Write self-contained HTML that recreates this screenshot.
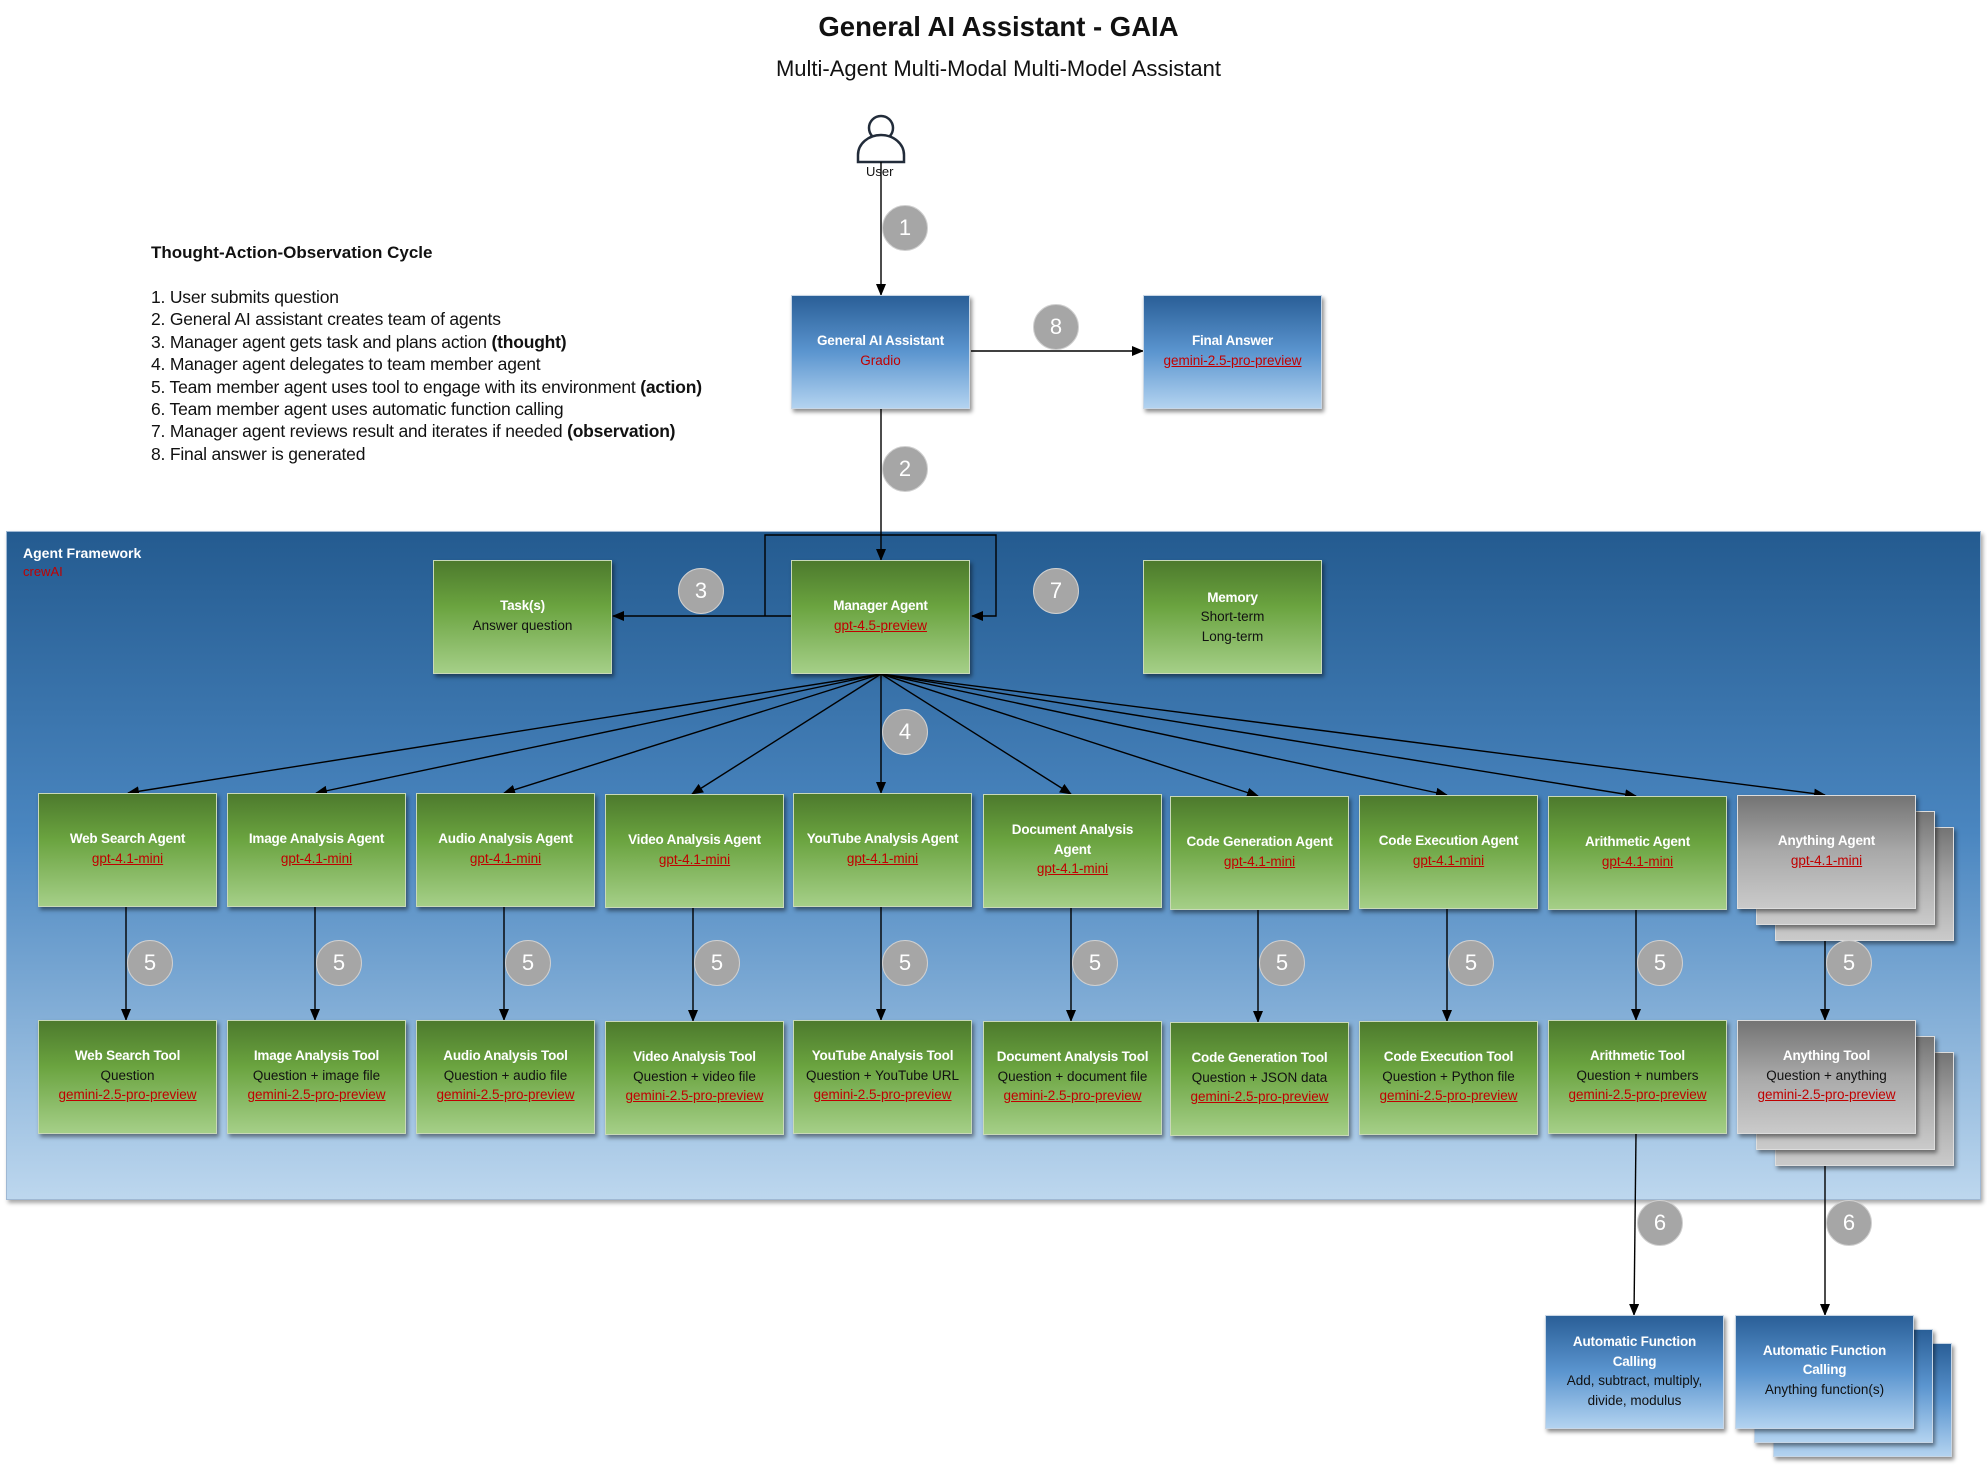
<!DOCTYPE html>
<html><head><meta charset="utf-8">
<style>
*{margin:0;padding:0;box-sizing:border-box}
body{width:1987px;height:1465px;background:#fff;position:relative;overflow:hidden;font-family:"Liberation Sans",sans-serif}
.abs{position:absolute}
.panel{left:6px;top:531px;width:1975px;height:669px;background:linear-gradient(#245b90,#4a86c0 45%,#bdd7ee);box-shadow:2px 3px 4px rgba(0,0,0,.35);border:1px solid #9fb8d3}
.box{position:absolute;width:179px;height:114px;display:flex;flex-direction:column;justify-content:center;align-items:center;text-align:center;font-size:13.5px;line-height:19.5px;box-shadow:2px 3px 4px rgba(0,0,0,.45);border:1px solid #c9d9b9;padding-bottom:3px}
.g{background:linear-gradient(#4d7a2d,#6aa33f 40%,#a5cf88)}
.b{background:linear-gradient(#2a5f97,#5b95cf 50%,#b3d3f0);border-color:#c7d6e6}
.gr{background:linear-gradient(#747474,#a9a9a9 50%,#cacaca);border-color:#ddd}
.t{color:#fff;font-weight:bold;letter-spacing:-0.2px}
.s{color:#111}
.r{color:#c00000;text-decoration:underline}
.rn{color:#c00000}
.c{position:absolute;width:46px;height:46px;border-radius:50%;background:#a6a6a6;border:1px solid #d0d0d0;color:#fff;font-size:22px;display:flex;align-items:center;justify-content:center}
svg{position:absolute;left:0;top:0}
</style></head><body>
<div class="abs" style="left:0;width:1997px;top:11px;text-align:center;font-size:27.5px;font-weight:bold;color:#111">General AI Assistant - GAIA</div>
<div class="abs" style="left:0;width:1997px;top:56px;text-align:center;font-size:22px;color:#111">Multi-Agent Multi-Modal Multi-Model Assistant</div>

<div class="abs" style="left:151px;top:243px;font-size:17px;font-weight:bold;color:#111">Thought-Action-Observation Cycle</div>
<div class="abs" style="left:151px;top:286px;font-size:17.5px;line-height:22.4px;color:#111;letter-spacing:-0.2px">
1. User submits question<br>2. General AI assistant creates team of agents<br>3. Manager agent gets task and plans action <b>(thought)</b><br>4. Manager agent delegates to team member agent<br>5. Team member agent uses tool to engage with its environment <b>(action)</b><br>6. Team member agent uses automatic function calling<br>7. Manager agent reviews result and iterates if needed <b>(observation)</b><br>8. Final answer is generated</div>

<div class="abs panel"></div>
<div class="abs" style="left:23px;top:545px;font-size:14px;font-weight:bold;color:#fff">Agent Framework</div>
<div class="abs" style="left:23px;top:564px;font-size:13px;color:#c00000">crewAI</div>

<svg width="1987" height="1465" style="z-index:1">
<defs><marker id="a" markerWidth="12" markerHeight="10" refX="11" refY="5" orient="auto" markerUnits="userSpaceOnUse"><path d="M0,0 L12,5 L0,10 z" fill="#000"/></marker></defs>
<circle cx="881" cy="128" r="12" fill="#fff" stroke="#222c3a" stroke-width="2.5"/>
<path d="M858,162 L858,155 A23,20 0 0 1 904,155 L904,162 Z" fill="#fff" stroke="#222c3a" stroke-width="2.5"/>
<g stroke="#000" stroke-width="1.4" fill="none">
<line x1="881" y1="162" x2="881" y2="295" marker-end="url(#a)"/>
<line x1="971" y1="351" x2="1143" y2="351" marker-end="url(#a)"/>
<line x1="881" y1="409" x2="881" y2="560" marker-end="url(#a)"/>
<line x1="791" y1="616" x2="613" y2="616" marker-end="url(#a)"/>
<polyline points="765,616 765,535 996,535 996,616 972,616" marker-end="url(#a)"/>
<line x1="881" y1="674" x2="128" y2="793" marker-end="url(#a)"/>
<line x1="881" y1="674" x2="316" y2="793" marker-end="url(#a)"/>
<line x1="881" y1="674" x2="504" y2="793" marker-end="url(#a)"/>
<line x1="881" y1="674" x2="692" y2="794" marker-end="url(#a)"/>
<line x1="881" y1="674" x2="881" y2="793" marker-end="url(#a)"/>
<line x1="881" y1="674" x2="1071" y2="794" marker-end="url(#a)"/>
<line x1="881" y1="674" x2="1258" y2="796" marker-end="url(#a)"/>
<line x1="881" y1="674" x2="1447" y2="795" marker-end="url(#a)"/>
<line x1="881" y1="674" x2="1636" y2="796" marker-end="url(#a)"/>
<line x1="881" y1="674" x2="1825" y2="795" marker-end="url(#a)"/>
<line x1="126" y1="907" x2="126" y2="1020" marker-end="url(#a)"/>
<line x1="315" y1="907" x2="315" y2="1020" marker-end="url(#a)"/>
<line x1="504" y1="907" x2="504" y2="1020" marker-end="url(#a)"/>
<line x1="693" y1="907" x2="693" y2="1021" marker-end="url(#a)"/>
<line x1="881" y1="907" x2="881" y2="1020" marker-end="url(#a)"/>
<line x1="1071" y1="907" x2="1071" y2="1021" marker-end="url(#a)"/>
<line x1="1258" y1="910" x2="1258" y2="1022" marker-end="url(#a)"/>
<line x1="1447" y1="908" x2="1447" y2="1021" marker-end="url(#a)"/>
<line x1="1636" y1="910" x2="1636" y2="1020" marker-end="url(#a)"/>
<line x1="1825" y1="910" x2="1825" y2="1020" marker-end="url(#a)"/>
<line x1="1636" y1="1134" x2="1634" y2="1315" marker-end="url(#a)"/>
<line x1="1825" y1="1134" x2="1825" y2="1315" marker-end="url(#a)"/>
</g></svg>
<div class="abs" style="left:866px;top:164px;font-size:13px;color:#111;z-index:2">User</div>

<div style="position:relative;z-index:3">
<div class="box b" style="left:791px;top:295px"><div class="t">General AI Assistant</div><div class="rn">Gradio</div></div>
<div class="box b" style="left:1143px;top:295px"><div class="t">Final Answer</div><div class="r">gemini-2.5-pro-preview</div></div>

<div class="box g" style="left:433px;top:560px"><div class="t">Task(s)</div><div class="s">Answer question</div></div>
<div class="box g" style="left:791px;top:560px"><div class="t">Manager Agent</div><div class="r">gpt-4.5-preview</div></div>
<div class="box g" style="left:1143px;top:560px;padding-bottom:0"><div class="t">Memory</div><div class="s">Short-term</div><div class="s">Long-term</div></div>

<div class="box g" style="left:38px;top:793px"><div class="t">Web Search Agent</div><div class="r">gpt-4.1-mini</div></div>
<div class="box g" style="left:227px;top:793px"><div class="t">Image Analysis Agent</div><div class="r">gpt-4.1-mini</div></div>
<div class="box g" style="left:416px;top:793px"><div class="t">Audio Analysis Agent</div><div class="r">gpt-4.1-mini</div></div>
<div class="box g" style="left:605px;top:794px"><div class="t">Video Analysis Agent</div><div class="r">gpt-4.1-mini</div></div>
<div class="box g" style="left:793px;top:793px"><div class="t">YouTube Analysis Agent</div><div class="r">gpt-4.1-mini</div></div>
<div class="box g" style="left:983px;top:794px"><div class="t">Document Analysis<br>Agent</div><div class="r">gpt-4.1-mini</div></div>
<div class="box g" style="left:1170px;top:796px"><div class="t">Code Generation Agent</div><div class="r">gpt-4.1-mini</div></div>
<div class="box g" style="left:1359px;top:795px"><div class="t">Code Execution Agent</div><div class="r">gpt-4.1-mini</div></div>
<div class="box g" style="left:1548px;top:796px"><div class="t">Arithmetic Agent</div><div class="r">gpt-4.1-mini</div></div>
<div class="box gr" style="left:1775px;top:827px"></div>
<div class="box gr" style="left:1756px;top:811px"></div>
<div class="box gr" style="left:1737px;top:795px"><div class="t">Anything Agent</div><div class="r">gpt-4.1-mini</div></div>

<div class="box g" style="left:38px;top:1020px"><div class="t">Web Search Tool</div><div class="s">Question</div><div class="r">gemini-2.5-pro-preview</div></div>
<div class="box g" style="left:227px;top:1020px"><div class="t">Image Analysis Tool</div><div class="s">Question + image file</div><div class="r">gemini-2.5-pro-preview</div></div>
<div class="box g" style="left:416px;top:1020px"><div class="t">Audio Analysis Tool</div><div class="s">Question + audio file</div><div class="r">gemini-2.5-pro-preview</div></div>
<div class="box g" style="left:605px;top:1021px"><div class="t">Video Analysis Tool</div><div class="s">Question + video file</div><div class="r">gemini-2.5-pro-preview</div></div>
<div class="box g" style="left:793px;top:1020px"><div class="t">YouTube Analysis Tool</div><div class="s">Question + YouTube URL</div><div class="r">gemini-2.5-pro-preview</div></div>
<div class="box g" style="left:983px;top:1021px"><div class="t">Document Analysis Tool</div><div class="s">Question + document file</div><div class="r">gemini-2.5-pro-preview</div></div>
<div class="box g" style="left:1170px;top:1022px"><div class="t">Code Generation Tool</div><div class="s">Question + JSON data</div><div class="r">gemini-2.5-pro-preview</div></div>
<div class="box g" style="left:1359px;top:1021px"><div class="t">Code Execution Tool</div><div class="s">Question + Python file</div><div class="r">gemini-2.5-pro-preview</div></div>
<div class="box g" style="left:1548px;top:1020px"><div class="t">Arithmetic Tool</div><div class="s">Question + numbers</div><div class="r">gemini-2.5-pro-preview</div></div>
<div class="box gr" style="left:1775px;top:1052px"></div>
<div class="box gr" style="left:1756px;top:1036px"></div>
<div class="box gr" style="left:1737px;top:1020px"><div class="t">Anything Tool</div><div class="s">Question + anything</div><div class="r">gemini-2.5-pro-preview</div></div>

<div class="box b" style="left:1545px;top:1315px;padding-bottom:2px"><div class="t">Automatic Function<br>Calling</div><div class="s">Add, subtract, multiply,<br>divide, modulus</div></div>
<div class="box b" style="left:1773px;top:1343px"></div>
<div class="box b" style="left:1754px;top:1329px"></div>
<div class="box b" style="left:1735px;top:1315px;padding-bottom:4px"><div class="t">Automatic Function<br>Calling</div><div class="s">Anything function(s)</div></div>
</div>

<div style="position:relative;z-index:4">
<div class="c" style="left:882px;top:205px">1</div>
<div class="c" style="left:1033px;top:304px">8</div>
<div class="c" style="left:882px;top:446px">2</div>
<div class="c" style="left:678px;top:568px">3</div>
<div class="c" style="left:1033px;top:568px">7</div>
<div class="c" style="left:882px;top:709px">4</div>
<div class="c" style="left:127px;top:940px">5</div>
<div class="c" style="left:316px;top:940px">5</div>
<div class="c" style="left:505px;top:940px">5</div>
<div class="c" style="left:694px;top:940px">5</div>
<div class="c" style="left:882px;top:940px">5</div>
<div class="c" style="left:1072px;top:940px">5</div>
<div class="c" style="left:1259px;top:940px">5</div>
<div class="c" style="left:1448px;top:940px">5</div>
<div class="c" style="left:1637px;top:940px">5</div>
<div class="c" style="left:1826px;top:940px">5</div>
<div class="c" style="left:1637px;top:1200px">6</div>
<div class="c" style="left:1826px;top:1200px">6</div>
</div>
</body></html>
